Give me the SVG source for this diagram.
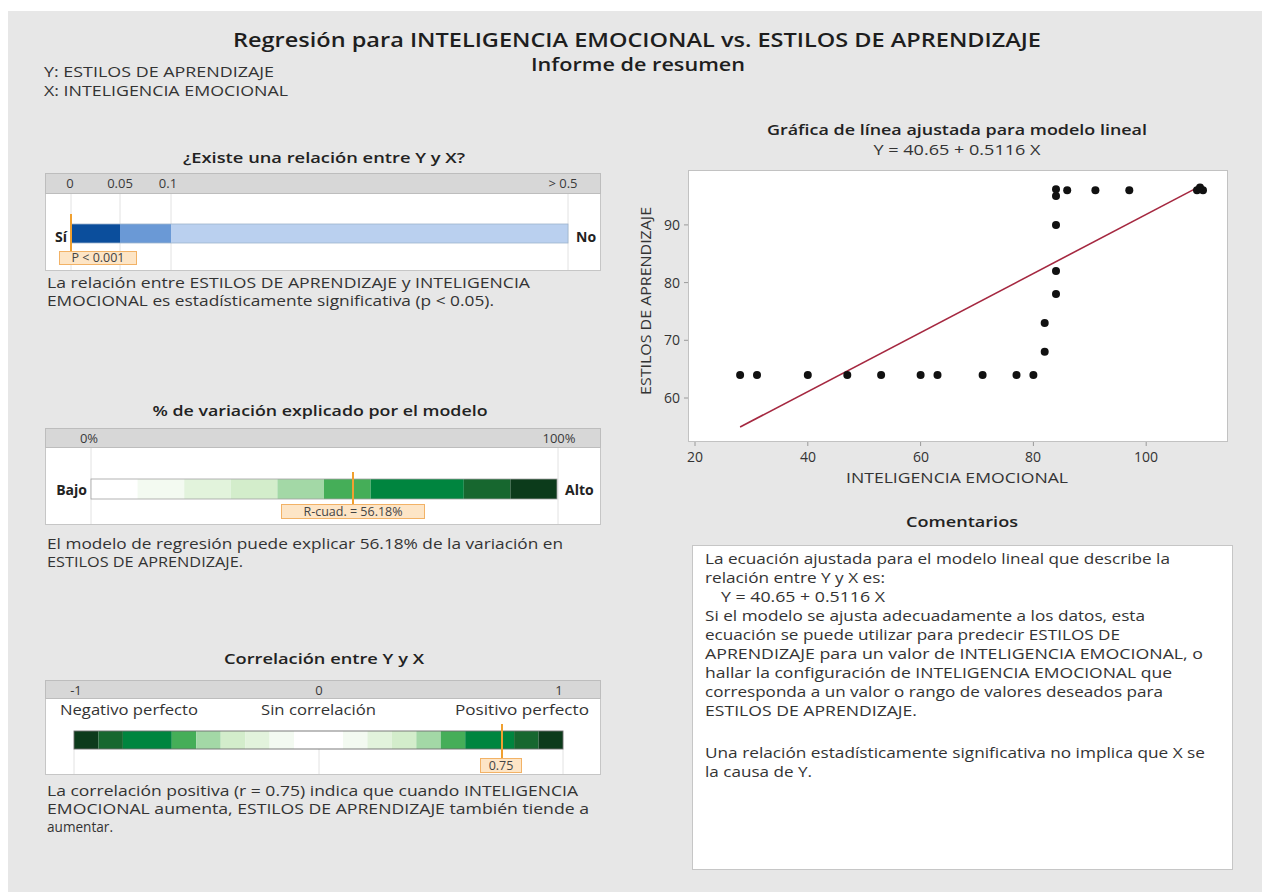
<svg xmlns="http://www.w3.org/2000/svg" width="1262" height="892" viewBox="0 0 1262 892">
<style>
text{font-family:"Open Sans","Noto Sans","DejaVu Sans",sans-serif;fill:#333;}
.h{font-size:19px;font-weight:600;fill:#1e1e1e;text-anchor:middle;}
.h2{font-size:17.5px;font-weight:600;fill:#1e1e1e;text-anchor:middle;}
.t{font-size:14.5px;font-weight:600;fill:#222;text-anchor:middle;}
.b{font-size:14px;}
.tk{font-size:13px;text-anchor:middle;fill:#3a3a3a;}
.lb{font-size:14px;font-weight:700;fill:#222;}
.box{fill:#fff;stroke:#c6c6c6;stroke-width:1;}
.hdr{fill:#d7d7d7;stroke:#bdbdbd;stroke-width:1;}
.grid{stroke:#e2e2e2;stroke-width:1;}
.mk{stroke:#f0a030;stroke-width:2;}
.mkb{fill:#fde5c6;stroke:#f2b266;stroke-width:1;}
.mkt{font-size:12.5px;text-anchor:middle;fill:#444;}
.dot{fill:#111;}
.ax{font-size:14px;fill:#333;}
</style>
<rect x="0" y="0" width="1262" height="892" fill="#fff"/>
<rect x="8" y="11" width="1254" height="881" fill="#e7e7e7"/>

<g id="header">
<text class="h" x="637" y="47" textLength="808" lengthAdjust="spacingAndGlyphs">Regresión para  INTELIGENCIA EMOCIONAL vs. ESTILOS DE APRENDIZAJE</text>
<text class="h2" x="638" y="71" textLength="214" lengthAdjust="spacingAndGlyphs">Informe de resumen</text>
<text class="b" x="44" y="77" textLength="230" lengthAdjust="spacingAndGlyphs">Y: ESTILOS DE APRENDIZAJE</text>
<text class="b" x="44" y="96" textLength="244" lengthAdjust="spacingAndGlyphs">X: INTELIGENCIA EMOCIONAL</text>
</g>

<g id="panel-relacion">
<text class="t" x="324" y="163" textLength="282" lengthAdjust="spacingAndGlyphs">¿Existe una relación entre Y y X?</text>
<rect class="box" x="45.5" y="173.5" width="555" height="97"/>
<rect class="hdr" x="45.5" y="173.5" width="555" height="20"/>
<line class="grid" x1="71" y1="194" x2="71" y2="270"/>
<line class="grid" x1="120" y1="194" x2="120" y2="270"/>
<line class="grid" x1="171" y1="194" x2="171" y2="270"/>
<line class="grid" x1="568" y1="194" x2="568" y2="270"/>
<text class="tk" x="70" y="188">0</text>
<text class="tk" x="120" y="188">0.05</text>
<text class="tk" x="168" y="188">0.1</text>
<text class="tk" x="563" y="188">&gt; 0.5</text>
<rect x="71" y="224" width="49" height="19" fill="#0b4e9c"/>
<rect x="120" y="224" width="51" height="19" fill="#6a99d6"/>
<rect x="171" y="224" width="397" height="19" fill="#bad0ef"/>
<rect x="71" y="224" width="497" height="19" fill="none" stroke="#9fb3cc" stroke-width="0.8"/>
<text class="lb" x="67" y="242" text-anchor="end">Sí</text>
<text class="lb" x="576" y="242">No</text>
<line class="mk" x1="71" y1="214" x2="71" y2="251"/>
<rect class="mkb" x="59.5" y="251.5" width="77" height="13"/>
<text class="mkt" x="98" y="262">P &lt; 0.001</text>
<text class="b" x="47" y="288" textLength="483" lengthAdjust="spacingAndGlyphs">La relación entre ESTILOS DE APRENDIZAJE y INTELIGENCIA</text>
<text class="b" x="47" y="306" textLength="447" lengthAdjust="spacingAndGlyphs">EMOCIONAL es estadísticamente significativa (p &lt; 0.05).</text>
</g>

<g id="panel-variacion">
<text class="t" x="320" y="416" textLength="335" lengthAdjust="spacingAndGlyphs">% de variación explicado por el modelo</text>
<rect class="box" x="45.5" y="428.5" width="555" height="96"/>
<rect class="hdr" x="45.5" y="428.5" width="555" height="19"/>
<line class="grid" x1="91" y1="448" x2="91" y2="524"/>
<line class="grid" x1="558" y1="448" x2="558" y2="524"/>
<text class="tk" x="89" y="443">0%</text>
<text class="tk" x="559" y="443">100%</text>
<rect x="91" y="479" width="46.6" height="20" fill="#ffffff"/>
<rect x="137.6" y="479" width="46.6" height="20" fill="#f3faf1"/>
<rect x="184.2" y="479" width="46.6" height="20" fill="#e2f3dc"/>
<rect x="230.8" y="479" width="46.6" height="20" fill="#d3edcb"/>
<rect x="277.4" y="479" width="46.6" height="20" fill="#a3d8a6"/>
<rect x="324" y="479" width="46.6" height="20" fill="#45ae58"/>
<rect x="370.6" y="479" width="93.2" height="20" fill="#00853f"/>
<rect x="463.8" y="479" width="46.6" height="20" fill="#17672f"/>
<rect x="510.4" y="479" width="46.6" height="20" fill="#0c3b1b"/>
<rect x="91" y="479" width="466" height="20" fill="none" stroke="#a0a0a0" stroke-width="0.8"/>
<text class="lb" x="87" y="495" text-anchor="end">Bajo</text>
<text class="lb" x="565" y="495">Alto</text>
<line class="mk" x1="353" y1="472" x2="353" y2="504"/>
<rect class="mkb" x="281.5" y="504.5" width="143" height="14"/>
<text class="mkt" x="353" y="516">R-cuad. = 56.18%</text>
<text class="b" x="47" y="549" textLength="516" lengthAdjust="spacingAndGlyphs">El modelo de regresión puede explicar 56.18% de la variación en</text>
<text class="b" x="47" y="567" textLength="196" lengthAdjust="spacingAndGlyphs">ESTILOS DE APRENDIZAJE.</text>
</g>

<g id="panel-correlacion">
<text class="t" x="324" y="664" textLength="200" lengthAdjust="spacingAndGlyphs">Correlación entre Y y X</text>
<rect class="box" x="45.5" y="680.5" width="555" height="94"/>
<rect class="hdr" x="45.5" y="680.5" width="555" height="18"/>
<line class="grid" x1="74" y1="749" x2="74" y2="774"/>
<line class="grid" x1="319" y1="749" x2="319" y2="774"/>
<line class="grid" x1="563" y1="749" x2="563" y2="774"/>
<text class="tk" x="76" y="695">-1</text>
<text class="tk" x="319" y="695">0</text>
<text class="tk" x="559" y="695">1</text>
<text class="b" x="60" y="715" textLength="138" lengthAdjust="spacingAndGlyphs">Negativo perfecto</text>
<text class="b" x="261" y="715" textLength="115" lengthAdjust="spacingAndGlyphs">Sin correlación</text>
<text class="b" x="455" y="715" textLength="134" lengthAdjust="spacingAndGlyphs">Positivo perfecto</text>
<g id="corr-bar">
<rect x="74" y="731" width="24.45" height="18" fill="#0c3b1b"/>
<rect x="98.45" y="731" width="24.45" height="18" fill="#17672f"/>
<rect x="122.9" y="731" width="48.9" height="18" fill="#00853f"/>
<rect x="171.8" y="731" width="24.45" height="18" fill="#45ae58"/>
<rect x="196.25" y="731" width="24.45" height="18" fill="#a3d8a6"/>
<rect x="220.7" y="731" width="24.45" height="18" fill="#d3edcb"/>
<rect x="245.15" y="731" width="24.45" height="18" fill="#e2f3dc"/>
<rect x="269.6" y="731" width="24.45" height="18" fill="#f3faf1"/>
<rect x="294.05" y="731" width="48.9" height="18" fill="#ffffff"/>
<rect x="342.95" y="731" width="24.45" height="18" fill="#f3faf1"/>
<rect x="367.4" y="731" width="24.45" height="18" fill="#e2f3dc"/>
<rect x="391.85" y="731" width="24.45" height="18" fill="#d3edcb"/>
<rect x="416.3" y="731" width="24.45" height="18" fill="#a3d8a6"/>
<rect x="440.75" y="731" width="24.45" height="18" fill="#45ae58"/>
<rect x="465.2" y="731" width="48.9" height="18" fill="#00853f"/>
<rect x="514.1" y="731" width="24.45" height="18" fill="#17672f"/>
<rect x="538.55" y="731" width="24.45" height="18" fill="#0c3b1b"/>
<rect x="74" y="731" width="489" height="18" fill="none" stroke="#6e6e6e" stroke-width="0.9"/>
</g>
<line class="mk" x1="502" y1="724" x2="502" y2="758"/>
<rect class="mkb" x="480.5" y="758.5" width="41" height="14"/>
<text class="mkt" x="501" y="770">0.75</text>
<text class="b" x="47" y="796" textLength="531" lengthAdjust="spacingAndGlyphs">La correlación positiva (r = 0.75) indica que cuando INTELIGENCIA</text>
<text class="b" x="47" y="814" textLength="542" lengthAdjust="spacingAndGlyphs">EMOCIONAL aumenta, ESTILOS DE APRENDIZAJE también tiende a</text>
<text class="b" x="47" y="832" textLength="66" lengthAdjust="spacingAndGlyphs">aumentar.</text>
</g>

<g id="scatter">
<text class="t" x="957" y="135" textLength="380" lengthAdjust="spacingAndGlyphs">Gráfica de línea ajustada para modelo lineal</text>
<text class="b" x="957" y="155" text-anchor="middle" textLength="167" lengthAdjust="spacingAndGlyphs">Y = 40.65 + 0.5116 X</text>
<rect x="688.5" y="170.5" width="539" height="271" fill="#fff" stroke="#c2c2c2" stroke-width="1"/>
<g stroke="#9a9a9a" stroke-width="1">
<line x1="684" y1="224.9" x2="688" y2="224.9"/>
<line x1="684" y1="282.6" x2="688" y2="282.6"/>
<line x1="684" y1="340.3" x2="688" y2="340.3"/>
<line x1="684" y1="398" x2="688" y2="398"/>
<line x1="695" y1="442" x2="695" y2="446"/>
<line x1="807.8" y1="442" x2="807.8" y2="446"/>
<line x1="920.6" y1="442" x2="920.6" y2="446"/>
<line x1="1033.4" y1="442" x2="1033.4" y2="446"/>
<line x1="1146.2" y1="442" x2="1146.2" y2="446"/>
</g>
<g class="ax" text-anchor="end">
<text x="680" y="230">90</text>
<text x="680" y="288">80</text>
<text x="680" y="345">70</text>
<text x="680" y="403">60</text>
</g>
<g class="ax" text-anchor="middle">
<text x="695" y="462">20</text>
<text x="808" y="462">40</text>
<text x="921" y="462">60</text>
<text x="1033" y="462">80</text>
<text x="1146" y="462">100</text>
</g>
<text class="ax" x="957" y="483" text-anchor="middle" textLength="222" lengthAdjust="spacingAndGlyphs" fill="#222">INTELIGENCIA EMOCIONAL</text>
<text class="ax" x="0" y="0" text-anchor="middle" transform="translate(651 301) rotate(-90)" textLength="188" lengthAdjust="spacingAndGlyphs" fill="#222">ESTILOS DE APRENDIZAJE</text>
<line x1="740.1" y1="427" x2="1202.6" y2="184.9" stroke="#a52840" stroke-width="1.6"/>
<g class="dot">
<circle cx="740.1" cy="374.9" r="4"/>
<circle cx="757" cy="374.9" r="4"/>
<circle cx="807.8" cy="374.9" r="4"/>
<circle cx="847.3" cy="374.9" r="4"/>
<circle cx="881.1" cy="374.9" r="4"/>
<circle cx="920.6" cy="374.9" r="4"/>
<circle cx="937.5" cy="374.9" r="4"/>
<circle cx="982.6" cy="374.9" r="4"/>
<circle cx="1016.5" cy="374.9" r="4"/>
<circle cx="1033.4" cy="374.9" r="4"/>
<circle cx="1044.7" cy="351.8" r="4"/>
<circle cx="1044.7" cy="323" r="4"/>
<circle cx="1056" cy="294.1" r="4"/>
<circle cx="1056" cy="271.1" r="4"/>
<circle cx="1056" cy="224.9" r="4"/>
<circle cx="1056" cy="196.1" r="4"/>
<circle cx="1056" cy="189.3" r="4"/>
<circle cx="1067.2" cy="190.3" r="4"/>
<circle cx="1095.4" cy="190.3" r="4"/>
<circle cx="1129.3" cy="190.3" r="4"/>
<circle cx="1197" cy="190.3" r="4"/>
<circle cx="1203" cy="190.3" r="4"/>
<circle cx="1200" cy="187.5" r="4"/>
</g>
</g>

<g id="comentarios">
<text class="t" x="962" y="527" textLength="112" lengthAdjust="spacingAndGlyphs">Comentarios</text>
<rect x="692.5" y="545.5" width="540" height="324" fill="#fff" stroke="#c6c6c6" stroke-width="1"/>
<text class="b" x="705" y="564" textLength="465" lengthAdjust="spacingAndGlyphs">La ecuación ajustada para el modelo lineal que describe la</text>
<text class="b" x="705" y="583" textLength="180" lengthAdjust="spacingAndGlyphs">relación entre Y y X es:</text>
<text class="b" x="721" y="602" textLength="164" lengthAdjust="spacingAndGlyphs">Y = 40.65 + 0.5116 X</text>
<text class="b" x="705" y="621" textLength="440" lengthAdjust="spacingAndGlyphs">Si el modelo se ajusta adecuadamente a los datos, esta</text>
<text class="b" x="705" y="640" textLength="415" lengthAdjust="spacingAndGlyphs">ecuación se puede utilizar para predecir ESTILOS DE</text>
<text class="b" x="705" y="659" textLength="498" lengthAdjust="spacingAndGlyphs">APRENDIZAJE para un valor de INTELIGENCIA EMOCIONAL, o</text>
<text class="b" x="705" y="678" textLength="467" lengthAdjust="spacingAndGlyphs">hallar la configuración de INTELIGENCIA EMOCIONAL que</text>
<text class="b" x="705" y="697" textLength="458" lengthAdjust="spacingAndGlyphs">corresponda a un valor o rango de valores deseados para</text>
<text class="b" x="705" y="716" textLength="212" lengthAdjust="spacingAndGlyphs">ESTILOS DE APRENDIZAJE.</text>
<text class="b" x="705" y="758" textLength="500" lengthAdjust="spacingAndGlyphs">Una relación estadísticamente significativa no implica que X se</text>
<text class="b" x="705" y="777" textLength="107" lengthAdjust="spacingAndGlyphs">la causa de Y.</text>
</g>
</svg>
